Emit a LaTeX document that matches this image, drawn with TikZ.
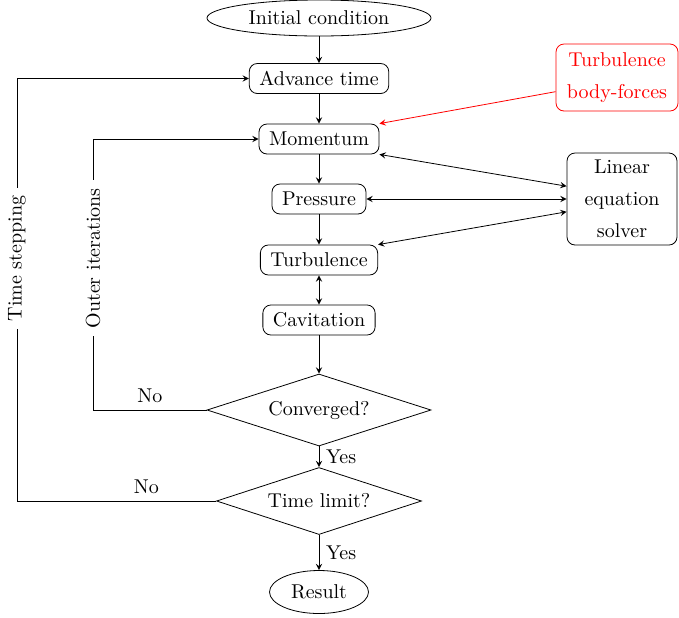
\documentclass[tikz,border=0pt]{standalone}
\usepackage{tikz}
\usetikzlibrary{shapes.geometric}

\tikzset{
  blk/.style={draw, rounded corners=4pt, minimum height=15pt, inner xsep=5pt, inner ysep=2pt},
  term/.style={draw, ellipse, inner sep=0pt},
  test/.style={draw, diamond, aspect=3, inner sep=0pt},
  looplbl/.style={fill=white, rotate=90, inner sep=4pt},
}

\begin{document}
\begin{tikzpicture}[x=0.5pt, y=-0.5pt, >=stealth]
\useasboundingbox (0,0) rectangle (679,617);

\node[term, minimum width=112pt, minimum height=18pt] (init) at (319,18) {Initial condition};
\node[blk] (adv) at (319,78.5) {Advance time};
\node[blk] (mom) at (319,139) {Momentum};
\node[blk] (pres) at (319,199) {Pressure};
\node[blk] (turb) at (319,260) {Turbulence};
\node[blk] (cav) at (319,320) {Cavitation};
\node[test, minimum width=112pt, minimum height=36pt] (conv) at (319,410) {Converged?};
\node[test, minimum width=102.5pt, minimum height=33.5pt] (tlim) at (319,501) {Time limit?};
\node[term, minimum width=49.5pt, minimum height=21.5pt] (res) at (319,592) {Result};

\node[blk, align=center, minimum width=55pt, minimum height=46pt] (sol) at (622,199) {Linear\\[4pt]equation\\[4pt]solver};
\node[blk, draw=red, text=red, align=center, minimum width=61pt, minimum height=33.5pt] (bf) at (617,77.5) {Turbulence\\[4pt]body-forces};

\coordinate (outer) at (93,0);
\coordinate (tstep) at (17,0);

\draw[->] (init) -- (adv);
\draw[->] (adv) -- (mom);
\draw[->] (mom) -- (pres);
\draw[->] (pres) -- (turb);
\draw[<->] (turb) -- (cav);
\draw[->] (cav) -- (conv);
\draw[->] (conv) -- node[right]{Yes} (tlim);
\draw[->] (tlim) -- node[right]{Yes} (res);

\draw[<->] (mom.south east) -- (sol.167);
\draw[<->] (pres.east) -- (sol.west);
\draw[<->] (turb.north east) -- (sol.193);
\draw[->, red] (bf.193) -- (mom.north east);

% loops back
\draw[->] (conv.west) -- node[above]{No} (conv.west -| outer)
  -- node[pos=0.56, looplbl]{Outer iterations} (outer |- mom.west) -- (mom.west);
\draw[->] (tlim.west) -- node[pos=0.35, above]{No} (tlim.west -| tstep)
  -- node[pos=0.574, looplbl]{Time stepping} (tstep |- adv.west) -- (adv.west);
\end{tikzpicture}
\end{document}
